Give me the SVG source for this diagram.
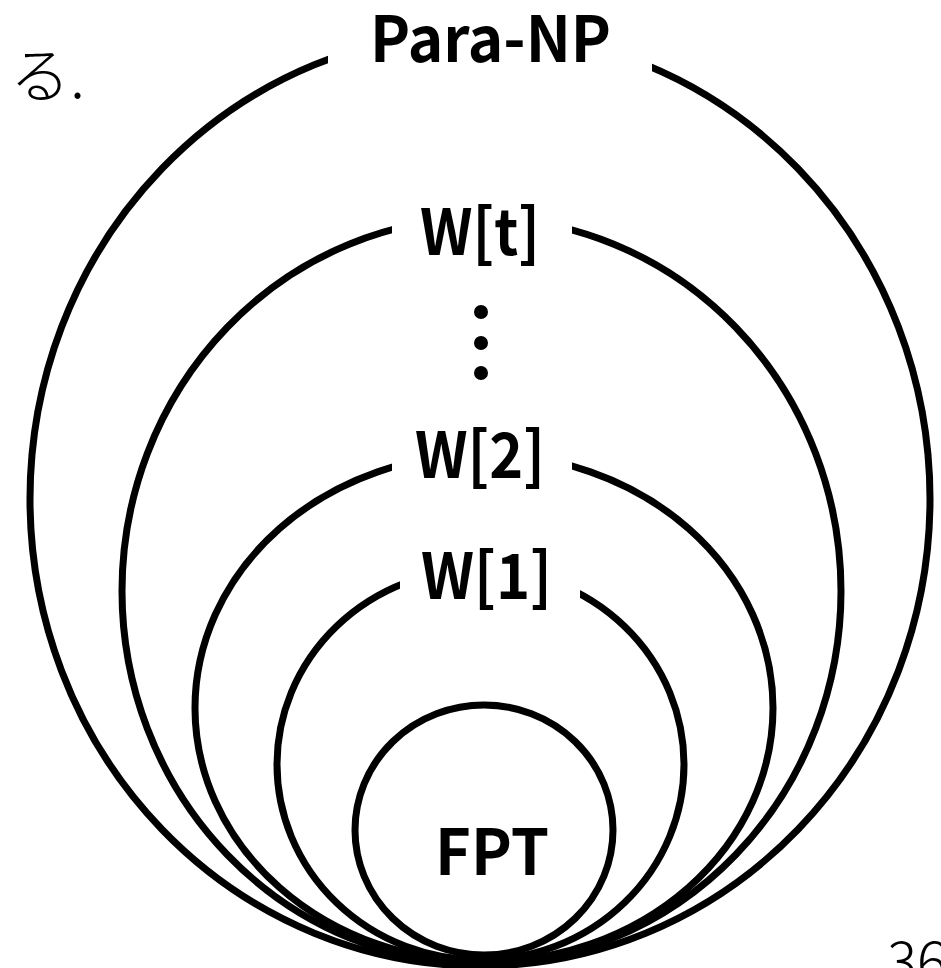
<svg xmlns="http://www.w3.org/2000/svg" width="941" height="968" viewBox="0 0 941 968">
<style>
.ring{fill:none;stroke:#000;stroke-width:7}
.lbl{font-family:"Noto Sans CJK JP","Noto Sans",sans-serif;font-weight:bold;font-size:63px;fill:#000;text-anchor:middle}
.thin{font-family:"Noto Sans CJK JP","Noto Sans",sans-serif;font-weight:300;fill:#000}
</style>
<defs>
<clipPath id="c0"><path clip-rule="evenodd" d="M0 0H941V968H0Z M328 0H652V90H328Z"/></clipPath>
<clipPath id="c1"><path clip-rule="evenodd" d="M0 0H941V968H0Z M392 190H572V250H392Z"/></clipPath>
<clipPath id="c2"><path clip-rule="evenodd" d="M0 0H941V968H0Z M392 420H572V485H392Z"/></clipPath>
<clipPath id="c3"><path clip-rule="evenodd" d="M0 0H941V968H0Z M400 550H580V605H400Z"/></clipPath>
</defs>
<rect width="941" height="968" fill="#fff"/>
<text class="thin" x="10" y="98" font-size="60" font-weight="200">る.</text>
<text class="thin" x="887" y="982" font-size="56">36</text>
<g id="para-np">
<ellipse class="ring" cx="480" cy="499" rx="450" ry="467" clip-path="url(#c0)"/>
<text class="lbl" x="490.5" y="62" textLength="241" lengthAdjust="spacingAndGlyphs">Para-NP</text>
</g>
<g id="w-t">
<ellipse class="ring" cx="481.5" cy="591" rx="359.5" ry="373" clip-path="url(#c1)"/>
<text class="lbl" x="480" y="255" textLength="120" lengthAdjust="spacingAndGlyphs">W[t]</text>
<circle cx="481" cy="312" r="7"/>
<circle cx="481" cy="343" r="7"/>
<circle cx="481" cy="373" r="7"/>
</g>
<g id="w-2">
<ellipse class="ring" cx="484" cy="708" rx="289" ry="254" clip-path="url(#c2)"/>
<text class="lbl" x="480" y="478" textLength="130" lengthAdjust="spacingAndGlyphs">W[2]</text>
</g>
<g id="w-1">
<ellipse class="ring" cx="480.5" cy="764.5" rx="203.5" ry="195.5" clip-path="url(#c3)"/>
<text class="lbl" x="486.5" y="599" textLength="131" lengthAdjust="spacingAndGlyphs">W[1]</text>
</g>
<g id="fpt">
<ellipse class="ring" cx="484" cy="830" rx="129" ry="125"/>
<text class="lbl" x="492" y="875" textLength="114" lengthAdjust="spacingAndGlyphs">FPT</text>
</g>
<g id="connectors"/>
</svg>
